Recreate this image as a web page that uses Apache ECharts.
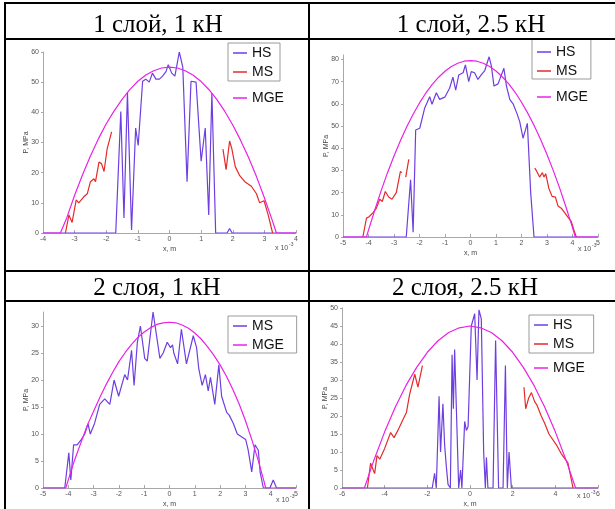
<!DOCTYPE html>
<html>
<head>
<meta charset="utf-8">
<script src="https://cdn.jsdelivr.net/npm/echarts@6/dist/echarts.min.js"></script>
<style>
  body { margin: 0; background: #fff; }
  #chart { position: absolute; left: 0; top: 0; width: 615px; height: 509px; }
  .ln { position: absolute; background: #000; }
  .hd { position: absolute; font: 25px 'Liberation Serif', 'Times New Roman', serif; line-height: 25px; text-align: center; color: #000; white-space: nowrap; }
</style>
</head>
<body>
<div id="chart"></div>
<div class="ln" style="left:4px;top:2px;width:611px;height:2px"></div>
<div class="ln" style="left:4px;top:38px;width:611px;height:2px"></div>
<div class="ln" style="left:4px;top:270px;width:611px;height:2px"></div>
<div class="ln" style="left:4px;top:300px;width:611px;height:2px"></div>
<div class="ln" style="left:4px;top:2px;width:2px;height:507px"></div>
<div class="ln" style="left:308px;top:2px;width:2px;height:507px"></div>
<div class="hd" style="left:58px;top:11px;width:200px">1 слой, 1 кН</div>
<div class="hd" style="left:371px;top:11px;width:200px">1 слой, 2.5 кН</div>
<div class="hd" style="left:57px;top:274px;width:200px">2 слоя, 1 кН</div>
<div class="hd" style="left:365px;top:274px;width:200px">2 слоя, 2.5 кН</div>
<script>
// panel 1: 1 layer, 1 kN  (x in 1e-3 m, P in MPa)
const hs1 = [[-4,0],[-1.7,0],[-1.54,40.3],[-1.44,5],[-1.33,46.6],[-1.2,1],[-1.07,34.8],[-0.99,29],[-0.85,50.3],[-0.75,51],[-0.64,50],[-0.54,53],[-0.43,51],[-0.32,51],[-0.22,52],[-0.11,53.5],[-0.04,55.8],[0.07,53],[0.17,52],[0.31,60],[0.42,55],[0.555,17],[0.68,50.3],[0.84,50],[1.0,23.8],[1.13,34.8],[1.24,6],[1.34,46.4],[1.46,0],[1.82,0],[1.9,1.5],[1.98,0],[4,0]]
const ms1L = [[-3.29,0],[-3.18,6],[-3.08,3.5],[-2.95,11],[-2.87,10],[-2.71,12],[-2.6,13],[-2.5,17],[-2.39,18],[-2.34,17],[-2.23,23.5],[-2.15,23],[-2.07,20.4],[-1.97,28],[-1.83,33.5]]
const ms1R = [[1.69,27.8],[1.79,21],[1.9,30.5],[1.97,28],[2.08,22],[2.22,19],[2.38,17],[2.59,15.5],[2.75,13],[2.85,10],[2.99,10.7],[3.12,6],[3.26,0]]
const mge1 = [[-4,0],[-3.45,0],[-3.25,5],[-3,12.5],[-2.75,19.3],[-2.5,25.5],[-2.25,31.2],[-2,36.2],[-1.75,40.5],[-1.5,44.3],[-1.25,47.6],[-1,50.3],[-0.75,52.4],[-0.5,53.8],[-0.25,54.7],[0,55],[0.25,54.7],[0.5,53.8],[0.75,52.3],[1,50.2],[1.25,47.5],[1.5,44.2],[1.75,40.3],[2,35.8],[2.25,30.7],[2.5,25],[2.75,18.7],[3,11.7],[3.25,4.2],[3.38,0],[4,0]]

// panel 2: 1 layer, 2.5 kN
const hs2 = [[-5,0],[-2.52,0],[-2.35,25.8],[-2.25,2.2],[-2.15,48.2],[-1.99,49],[-1.8,58],[-1.6,63.2],[-1.51,59.8],[-1.34,65],[-1.21,62],[-1.01,63],[-0.82,67],[-0.69,72],[-0.58,66.2],[-0.46,73],[-0.29,74],[-0.2,77.5],[-0.07,70],[0.03,74.5],[0.16,74],[0.29,71],[0.42,73],[0.56,75],[0.73,81.2],[0.82,77],[0.92,68],[1.08,69],[1.31,76],[1.41,68],[1.54,62],[1.67,60],[1.82,55.7],[1.93,52],[2.06,44.5],[2.23,51.2],[2.36,20],[2.49,0],[5,0]]
const ms2La = [[-4.22,0],[-4.08,8.5],[-3.99,9],[-3.82,11],[-3.69,13],[-3.56,17],[-3.46,16],[-3.34,20.5],[-3.21,18],[-3.08,17],[-2.91,20],[-2.75,29.5],[-2.69,29]]
const ms2Lb = [[-2.54,27],[-2.42,35]]
const ms2R = [[2.52,31],[2.58,30],[2.71,27],[2.82,29],[2.88,27],[2.95,28.5],[3.07,22],[3.2,18.3],[3.33,18],[3.43,14],[3.56,13],[3.69,11],[3.82,9],[3.89,9.5],[3.95,7],[4.06,3],[4.15,0]]
const mge2 = [[-5,0],[-4.08,0],[-4,3.1],[-3.75,12.3],[-3.5,21],[-3.25,29.1],[-3,36.5],[-2.75,43.4],[-2.5,49.7],[-2.25,55.3],[-2,60.4],[-1.75,64.9],[-1.5,68.8],[-1.25,72],[-1,74.7],[-0.75,76.8],[-0.5,78.3],[-0.25,79.2],[0,79.5],[0.25,79.2],[0.5,78.3],[0.75,76.8],[1,74.8],[1.25,72.1],[1.5,69],[1.75,65.2],[2,60.7],[2.25,55.7],[2.5,50.1],[2.75,43.9],[3,37.2],[3.25,29.8],[3.5,21.9],[3.75,13.3],[4,4.2],[4.11,0],[5,0]]

// panel 3: 2 layers, 1 kN
const ms3 = [[-5,0],[-4.14,0],[-3.98,6.5],[-3.9,1.5],[-3.79,8],[-3.65,8],[-3.48,9],[-3.35,10],[-3.22,11.9],[-3.13,10],[-2.96,12],[-2.76,15.5],[-2.56,16.5],[-2.36,15.5],[-2.19,20],[-2.01,17],[-1.77,21],[-1.66,20],[-1.5,25.5],[-1.4,19],[-1.27,27],[-1.15,30],[-0.98,24],[-0.88,23.5],[-0.65,32.6],[-0.38,24],[-0.25,25],[-0.09,27],[0.04,26],[0.12,26.5],[0.17,25],[0.32,23],[0.47,29.4],[0.67,23],[0.94,28.2],[1.07,26],[1.16,22],[1.29,19],[1.42,21],[1.53,18],[1.62,20.5],[1.79,15.5],[1.95,22.8],[2.06,17],[2.26,14],[2.36,13.5],[2.52,12],[2.68,10],[3.01,9],[3.11,7],[3.25,3],[3.38,8],[3.51,7],[3.58,3],[3.71,0],[3.97,0],[4.1,1.5],[4.23,0],[5,0]]
const mge3 = [[-5,0],[-4.1,0],[-4,1.5],[-3.75,5.2],[-3.5,8.4],[-3.25,11.6],[-3,14.2],[-2.75,16.8],[-2.5,19.2],[-2.25,21.4],[-2,23.4],[-1.75,25.1],[-1.5,26.6],[-1.25,27.9],[-1,28.9],[-0.75,29.7],[-0.5,30.3],[-0.25,30.6],[0,30.7],[0.25,30.6],[0.5,30.2],[0.75,29.6],[1,28.7],[1.25,27.6],[1.5,26.2],[1.75,24.6],[2,22.8],[2.25,20.7],[2.5,18.3],[2.75,15.6],[3,12.5],[3.25,9],[3.5,5.2],[3.75,1],[3.8,0],[5,0]]

// panel 4: 2 layers, 2.5 kN
const hs4 = [[-6,0],[-1.77,0],[-1.66,4.1],[-1.58,0],[-1.45,25.5],[-1.38,10],[-1.27,23.4],[-1.19,12],[-1.11,6],[-1.03,1],[-0.92,0],[-0.84,37],[-0.78,22],[-0.72,38.5],[-0.53,0],[-0.44,5],[-0.38,0],[-0.25,18.5],[-0.17,16],[-0.09,17],[0.06,45],[0.22,48.4],[0.33,30],[0.42,49.5],[0.53,47],[0.64,10],[0.72,0],[0.77,8.5],[0.84,0],[1.08,0],[1.2,41],[1.34,0],[1.55,0],[1.66,34],[1.75,0],[1.83,10],[1.94,0],[6,0]]
const ms4L = [[-4.81,0],[-4.66,6.9],[-4.47,4],[-4.36,9],[-4.23,8],[-4,11],[-3.72,15.4],[-3.56,14],[-3.38,16],[-3.14,19],[-2.98,21],[-2.83,26],[-2.59,31.6],[-2.44,28],[-2.23,34]]
const ms4R = [[2.53,28],[2.61,22],[2.75,25],[2.88,26.5],[3.03,24],[3.14,23],[3.34,20],[3.5,18],[3.7,15],[4.05,12],[4.28,9.5],[4.59,7],[4.83,0]]
const mge4 = [[-6,0],[-4.95,0],[-4.5,7.8],[-4,15.6],[-3.5,22.5],[-3,28.5],[-2.5,33.5],[-2,37.7],[-1.5,40.9],[-1,43.2],[-0.5,44.5],[0,45],[0.5,44.5],[1,43.2],[1.5,40.9],[2,37.7],[2.5,33.5],[3,28.5],[3.5,22.5],[4,15.6],[4.5,7.8],[4.95,0],[6,0]]

const yTicks1 = [0, 10, 20, 30, 40, 50, 60]
const yTicks2 = [0, 10, 20, 30, 40, 50, 60, 70, 80]
const yTicks3 = [0, 5, 10, 15, 20, 25, 30]
const yTicks4 = [0, 5, 10, 15, 20, 25, 30, 35, 40, 45, 50]

const C_HS = '#6e3fe0'
const C_MS = '#e42a2a'
const C_MGE = '#ea22e6'
const AXIS_C = '#a8a8a8'
const FONT = 'Liberation Sans, Arial, sans-serif'

const chart = echarts.init(document.getElementById('chart'))

const grids = [
  { left: 43, right: 319, top: 52, bottom: 276 },
  { left: 343, right: 17, top: 55, bottom: 272 },
  { left: 43, right: 319, top: 312, bottom: 16 },
  { left: 342, right: 17, top: 308, bottom: 19 },
]

function xAx(i, min, max, interval) {
  return {
    type: 'value', gridIndex: i, min, max, interval,
    name: 'x, m', nameLocation: 'middle', nameGap: 13, nameMoveOverlap: false,
    nameTextStyle: { fontSize: 7, color: '#444', fontFamily: FONT },
    axisLine: { onZero: false, lineStyle: { color: AXIS_C, width: 1 } },
    axisTick: { inside: true, length: 3, lineStyle: { color: AXIS_C } },
    axisLabel: { fontSize: 7, color: '#555', margin: 3, fontFamily: FONT },
    splitLine: { show: false },
  }
}

function yAx(i, max, ticks) {
  return {
    type: 'value', gridIndex: i, min: 0, max,
    name: 'P, MPa', nameLocation: 'middle', nameRotate: 90, nameGap: 13, nameMoveOverlap: false,
    nameTextStyle: { fontSize: 7, color: '#444', fontFamily: FONT },
    axisLine: { show: true, onZero: false, lineStyle: { color: AXIS_C, width: 1 } },
    axisTick: { show: true, length: 2, customValues: ticks, lineStyle: { color: AXIS_C } },
    axisLabel: { fontSize: 7, color: '#555', margin: 4, customValues: ticks, fontFamily: FONT },
    splitLine: { show: false },
  }
}

function line(name, data, i, color) {
  return {
    type: 'line', name, data, xAxisIndex: i, yAxisIndex: i,
    symbol: 'none', showSymbol: false, color, lineStyle: { color, width: 1.2 },
    animation: false,
  }
}

function legendBox(names, left, top, padding) {
  return {
    data: names, orient: 'vertical', left, top, padding,
    icon: 'rect', itemWidth: 14, itemHeight: 1.5, itemGap: 5,
    borderColor: '#9a9a9a', borderWidth: 1,
    textStyle: { fontSize: 14, color: '#111', fontFamily: FONT, height: 14, lineHeight: 14 },
    selectedMode: false,
  }
}

function legendFree(names, left, top) {
  return {
    data: names, orient: 'vertical', left, top, padding: 0,
    icon: 'rect', itemWidth: 14, itemHeight: 1.5,
    textStyle: { fontSize: 14, color: '#111', fontFamily: FONT, height: 14, lineHeight: 14 },
    selectedMode: false,
  }
}

function expText(left, top) {
  return [
    { type: 'text', left, top, style: { text: 'x 10', fontSize: 7, fill: '#555', fontFamily: FONT } },
    { type: 'text', left: left + 14, top: top - 3, style: { text: '-3', fontSize: 5, fill: '#555', fontFamily: FONT } },
  ]
}

chart.setOption({
  backgroundColor: 'transparent',
  animation: false,
  grid: grids,
  xAxis: [xAx(0, -4, 4, 1), xAx(1, -5, 5, 1), xAx(2, -5, 5, 1), xAx(3, -6, 6, 2)],
  yAxis: [yAx(0, 60, yTicks1), yAx(1, 82, yTicks2), yAx(2, 32.6, yTicks3), yAx(3, 50, yTicks4)],
  legend: [
    legendBox(['HS', 'MS'], 228, 43, [3, 7, 2, 5]),
    legendFree(['MGE'], 233, 91),
    legendBox(['HS ', 'MS '], 532, 39, [6, 10, 1, 5]),
    legendFree(['MGE '], 537, 90),
    legendBox(['MS  ', 'MGE  '], 228, 316, [3, 5, 1, 5]),
    legendBox(['HS   ', 'MS   '], 529, 315, [3, 8, 2, 5]),
    legendFree(['MGE   '], 534, 361),
  ],
  graphic: [].concat(expText(275, 245), expText(578, 246), expText(276, 497), expText(577, 493)),
  series: [
    line('HS', hs1, 0, C_HS),
    line('MS', ms1L, 0, C_MS),
    line('MS', ms1R, 0, C_MS),
    line('MGE', mge1, 0, C_MGE),
    line('HS ', hs2, 1, C_HS),
    line('MS ', ms2La, 1, C_MS),
    line('MS ', ms2Lb, 1, C_MS),
    line('MS ', ms2R, 1, C_MS),
    line('MGE ', mge2, 1, C_MGE),
    line('MS  ', ms3, 2, C_HS),
    line('MGE  ', mge3, 2, C_MGE),
    line('HS   ', hs4, 3, C_HS),
    line('MS   ', ms4L, 3, C_MS),
    line('MS   ', ms4R, 3, C_MS),
    line('MGE   ', mge4, 3, C_MGE),
  ],
})
</script>
</body>
</html>
